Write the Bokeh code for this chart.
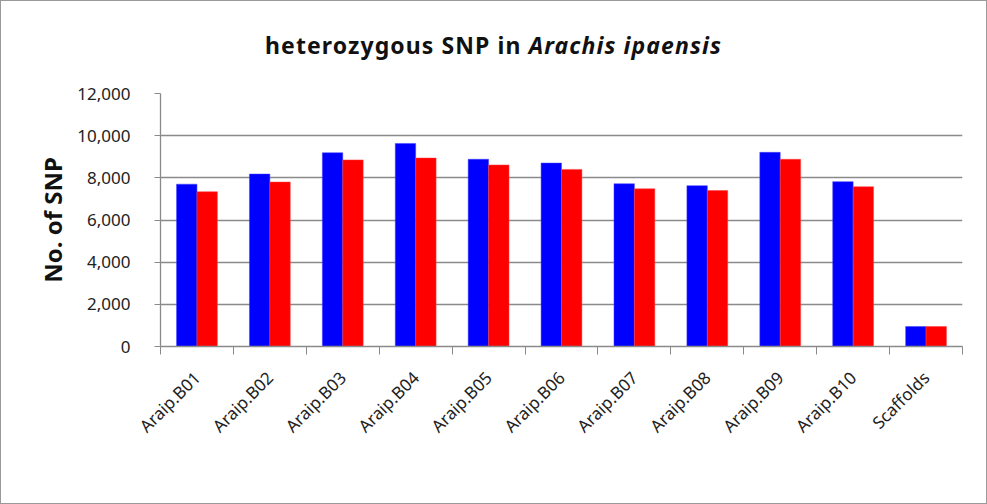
from bokeh.plotting import figure
from bokeh.models import ColumnDataSource, FixedTicker, NumeralTickFormatter, Range1d, Div
from bokeh.layouts import column
from bokeh.transform import dodge
from bokeh.embed import file_html
from bokeh.resources import INLINE
import math

categories = ["Araip.B01", "Araip.B02", "Araip.B03", "Araip.B04", "Araip.B05", "Araip.B06",
              "Araip.B07", "Araip.B08", "Araip.B09", "Araip.B10", "Scaffolds"]
series_blue = [7700, 8180, 9190, 9630, 8880, 8700, 7720, 7630, 9210, 7820, 950]
series_red = [7340, 7800, 8850, 8940, 8610, 8400, 7480, 7400, 8880, 7580, 950]
y_ticks = [0, 2000, 4000, 6000, 8000, 10000, 12000]
title_plain = "heterozygous SNP in "
title_italic = "Arachis ipaensis"

n = len(categories)
centers = [i + 0.5 for i in range(n)]
source = ColumnDataSource(dict(x=centers, blue=series_blue, red=series_red))

GRID = "#8a8a8a"
FONT = "Noto Sans"

title = Div(
    text=(f'<div style="width:971px; padding-left:14px; padding-top:28px; text-align:center; '
          f'font-family:\'{FONT}\'; font-size:23px; letter-spacing:1.1px; font-weight:bold; '
          f'color:#111111; white-space:nowrap;">'
          f'{title_plain}<i>{title_italic}</i></div>'),
    width=985, height=82, margin=(0, 0, 0, 0))

p = figure(width=985, height=420, output_backend="svg", toolbar_location=None,
           x_range=Range1d(0, n), y_range=Range1d(0, 12000),
           min_border_left=159, min_border_right=24, min_border_top=10, min_border_bottom=157)
p.outline_line_color = None
p.background_fill_color = "white"
p.margin = (0, 0, 0, 0)

p.vbar(x=dodge("x", -0.14), top="blue", width=0.28, source=source,
       fill_color="#0000FF", line_color="#4040ff", line_width=0.5)
p.vbar(x=dodge("x", 0.14), top="red", width=0.28, source=source,
       fill_color="#FF0000", line_color="#ff4040", line_width=0.5)

# x axis: labels at category centres, tick marks between categories
xa = p.xaxis[0]
xa.ticker = FixedTicker(ticks=centers, minor_ticks=list(range(n + 1)))
xa.major_label_overrides = {c: cat for c, cat in zip(centers, categories)}
xa.major_tick_line_color = None
xa.minor_tick_line_color = GRID
xa.minor_tick_out = 8
xa.minor_tick_in = 0
xa.axis_line_color = GRID
xa.axis_line_width = 1.3
xa.major_label_orientation = math.pi / 4
xa.major_label_text_font = FONT
xa.major_label_text_font_size = "17px"
xa.major_label_text_color = "#222222"
xa.major_label_standoff = 20

# y axis
ya = p.yaxis[0]
ya.ticker = FixedTicker(ticks=y_ticks)
ya.formatter = NumeralTickFormatter(format="0,0")
ya.minor_tick_line_color = None
ya.major_tick_line_color = GRID
ya.major_tick_out = 6
ya.major_tick_in = 0
ya.axis_line_color = GRID
ya.axis_line_width = 1.3
ya.major_label_text_font = FONT
ya.major_label_text_font_size = "17px"
ya.major_label_text_color = "#222222"
ya.major_label_standoff = 24
ya.axis_label = "No. of SNP"
ya.axis_label_text_font = FONT
ya.axis_label_text_font_size = "24px"
ya.axis_label_text_font_style = "bold"
ya.axis_label_text_color = "#111111"
ya.axis_label_standoff = 5

p.xgrid.grid_line_color = None
p.ygrid.grid_line_color = GRID
p.ygrid.grid_line_width = 1.3

layout = column(title, p, spacing=0)
layout.styles = {"border": "1px solid #9a9a9a", "background-color": "white"}

open("out.html", "w").write(file_html(layout, INLINE))
